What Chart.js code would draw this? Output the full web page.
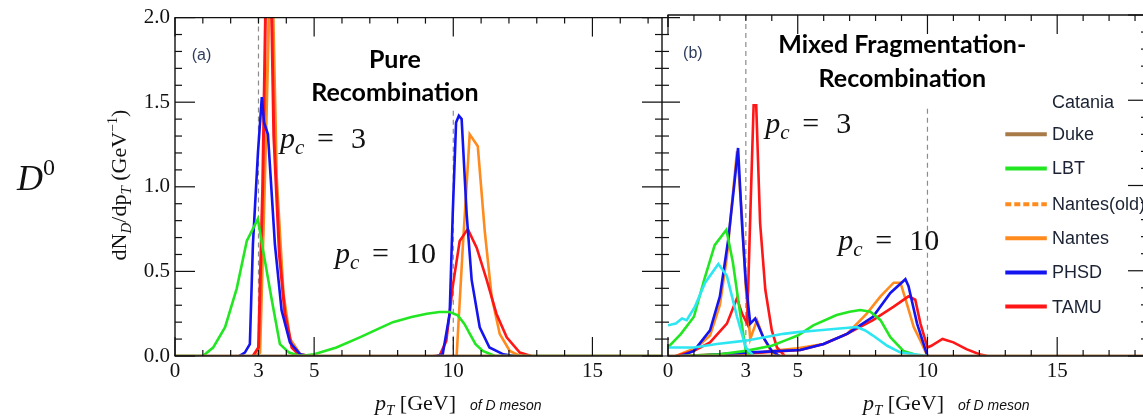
<!DOCTYPE html>
<html>
<head>
<meta charset="utf-8">
<script src="https://cdn.jsdelivr.net/npm/chart.js@4.4.0/dist/chart.umd.min.js"></script>
<style>
  html, body { margin: 0; padding: 0; background: #fff; overflow: hidden; }
  #wrap { position: relative; width: 1143px; height: 417px; overflow: hidden; }
  #left { position: absolute; left: 0; top: 0; }
  #right { position: absolute; left: 640px; top: 0; }
</style>
</head>
<body>
<div id="wrap">
  <canvas id="left" width="680" height="417"></canvas>
  <canvas id="right" width="520" height="417"></canvas>
</div>
<script>
// axis ticks
const xTickValuesA = [0, 1, 2, 3, 4, 5, 6, 7, 8, 9, 10, 11, 12, 13, 14, 15, 16, 17];
const xTickValuesB = [0, 1, 2, 3, 4, 5, 6, 7, 8, 9, 10, 11, 12, 13, 14, 15, 16, 17, 18];
const xTickLabels = [0, 3, 5, 10, 15];
const yTickValues = [0, 0.1, 0.2, 0.3, 0.4, 0.5, 0.6, 0.7, 0.8, 0.9, 1.0, 1.1, 1.2, 1.3, 1.4, 1.5, 1.6, 1.7, 1.8, 1.9, 2.0];
const cutoffX = [3, 10];
const cutoffTop = [2.0, 1.45];

// legend
const legendNames = ["Catania", "Duke", "LBT", "Nantes(old)", "Nantes", "PHSD", "TAMU"];

// colours
const C_CATANIA = "#2ee6f2";
const C_DUKE = "#a87a48";
const C_LBT = "#22e622";
const C_NANTES = "#ff8a1e";
const C_PHSD = "#1414f0";
const C_TAMU = "#ff1616";
const legendColors = [null, C_DUKE, C_LBT, C_NANTES, C_NANTES, C_PHSD, C_TAMU];
const legendDashed = [false, false, false, true, false, false, false];

// ---- panel (a): pure recombination ----
const dukeAX = [0, 17.5];
const dukeAY = [0, 0];
const lbtA3X = [0, 1.0, 1.37, 1.8, 2.22, 2.58, 2.98, 3.17, 3.48, 3.77, 4.1, 4.5, 5.0];
const lbtA3Y = [0, 0, 0.05, 0.17, 0.40, 0.68, 0.81, 0.62, 0.33, 0.07, 0.02, 0, 0];
const lbtA10X = [4.5, 5.0, 5.8, 6.64, 7.3, 7.83, 8.5, 9.05, 9.5, 9.87, 10.16, 10.4, 10.6, 10.8, 11.06, 11.5, 17.5];
const lbtA10Y = [0, 0.01, 0.05, 0.11, 0.16, 0.20, 0.23, 0.25, 0.26, 0.26, 0.24, 0.19, 0.13, 0.07, 0.03, 0, 0];
const phsdA3X = [2.3, 2.51, 2.69, 2.8, 2.98, 3.12, 3.2, 3.34, 3.59, 3.83, 4.13, 4.5, 4.8];
const phsdA3Y = [0, 0.02, 0.07, 0.66, 1.20, 1.53, 1.38, 1.31, 0.66, 0.27, 0.08, 0.01, 0];
const tamuA3X = [2.8, 3.0, 3.15, 3.3, 3.42, 3.55, 3.75, 3.95, 4.2, 4.5];
const tamuA3Y = [0, 0.05, 1.0, 2.5, 2.5, 1.3, 0.6, 0.25, 0.05, 0];
const nantesA3X = [2.9, 3.05, 3.2, 3.38, 3.52, 3.65, 3.89, 4.13, 4.5, 4.8];
const nantesA3Y = [0, 0.02, 0.9, 2.05, 2.05, 1.05, 0.37, 0.1, 0.01, 0];
const phsdA10X = [9.4, 9.62, 9.87, 9.98, 10.1, 10.2, 10.3, 10.48, 10.66, 10.95, 11.3, 11.8, 12.2];
const phsdA10Y = [0, 0.01, 0.25, 0.84, 1.38, 1.42, 1.40, 0.84, 0.45, 0.17, 0.05, 0.01, 0];
const nantesA10X = [10.0, 10.12, 10.34, 10.59, 10.88, 11.13, 11.38, 11.67, 12.03, 12.4];
const nantesA10Y = [0, 0, 0.64, 1.31, 1.24, 0.74, 0.35, 0.13, 0.03, 0];
const tamuA10X = [9.3, 9.5, 9.75, 9.98, 10.23, 10.52, 10.84, 11.2, 11.55, 11.92, 12.39, 12.8];
const tamuA10Y = [0, 0, 0.09, 0.41, 0.68, 0.75, 0.64, 0.45, 0.25, 0.11, 0.02, 0];

// ---- panel (b): mixed fragmentation-recombination ----
const dukeBX = [0, 18.5];
const dukeBY = [0, 0];
const cataniaB3X = [0, 0.3, 0.54, 0.72, 1.04, 1.43, 1.94, 2.27, 2.66, 3.0, 3.3];
const cataniaB3Y = [0.18, 0.19, 0.22, 0.21, 0.29, 0.43, 0.54, 0.47, 0.23, 0.05, 0];
const cataniaB10X = [0, 0.5, 1.0, 1.88, 3.0, 4.45, 5.0, 5.74, 6.5, 7.28, 7.6, 7.9, 8.45, 8.96, 9.5, 10.0];
const cataniaB10Y = [0.05, 0.05, 0.05, 0.07, 0.09, 0.13, 0.14, 0.15, 0.16, 0.17, 0.15, 0.12, 0.06, 0.02, 0.01, 0];
const lbtB3X = [0, 0.5, 1.0, 1.4, 1.8, 2.25, 2.5, 2.78, 3.0, 3.2];
const lbtB3Y = [0.05, 0.13, 0.23, 0.45, 0.65, 0.74, 0.55, 0.25, 0.03, 0];
const lbtB10X = [0.5, 2.0, 3.0, 4.0, 4.5, 5.0, 5.6, 6.5, 7.0, 7.41, 7.8, 8.19, 8.57, 9.07, 9.7];
const lbtB10Y = [0, 0.01, 0.03, 0.06, 0.09, 0.12, 0.18, 0.24, 0.26, 0.27, 0.26, 0.21, 0.11, 0.03, 0];
const phsdB3X = [0.5, 1.0, 1.62, 2.0, 2.32, 2.55, 2.7, 2.85, 3.0, 3.17, 3.36, 3.67, 4.0, 4.3];
const phsdB3Y = [0, 0.03, 0.15, 0.35, 0.68, 1.0, 1.22, 0.78, 0.43, 0.19, 0.22, 0.11, 0.03, 0];
const phsdB10X = [1.0, 3.0, 5.1, 6.0, 6.9, 7.9, 8.57, 9.15, 9.27, 9.6, 10.0];
const phsdB10Y = [0, 0.02, 0.035, 0.07, 0.13, 0.23, 0.37, 0.45, 0.41, 0.19, 0];
const nantesB3X = [0.3, 1.11, 1.62, 2.0, 2.27, 2.5, 2.66, 2.85, 3.0, 3.17, 3.43, 3.67, 4.0, 4.3];
const nantesB3Y = [0, 0.05, 0.12, 0.3, 0.58, 0.95, 1.2, 0.82, 0.4, 0.1, 0.21, 0.11, 0.02, 0];
const nantesB10X = [0.5, 2.0, 3.5, 4.32, 5.0, 6.0, 6.9, 7.67, 8.19, 8.7, 8.96, 9.2, 9.47, 9.73, 10.0];
const nantesB10Y = [0, 0.005, 0.02, 0.035, 0.045, 0.07, 0.13, 0.25, 0.35, 0.43, 0.43, 0.31, 0.17, 0.09, 0];
const tamuB3X = [0.3, 1.0, 1.62, 2.27, 2.66, 2.85, 3.05, 3.2, 3.3, 3.4, 3.55, 3.75, 4.0, 4.2, 4.5];
const tamuB3Y = [0, 0.03, 0.08, 0.19, 0.34, 0.25, 0.19, 0.97, 1.47, 1.47, 0.78, 0.39, 0.15, 0.05, 0];
const tamuB10X = [0.5, 2.0, 3.5, 5.1, 6.0, 6.9, 7.9, 8.7, 9.27, 9.53, 9.73, 10.0, 10.15, 10.58, 11.0, 11.5, 12.0, 12.3];
const tamuB10Y = [0, 0.01, 0.02, 0.035, 0.07, 0.13, 0.21, 0.29, 0.35, 0.33, 0.19, 0.05, 0.06, 0.10, 0.08, 0.04, 0.01, 0];

const SERIF = '"Liberation Serif", "Times New Roman", serif';
const SANS = '"Liberation Sans", Arial, sans-serif';

function series(xs, ys, color, width) {
  return {
    data: xs.map((x, i) => ({ x: x, y: ys[i] })),
    borderColor: color,
    borderWidth: width || 2.6,
    pointRadius: 0,
    fill: false,
    tension: 0,
  };
}

function isMajorY(v) {
  return Math.abs(v * 2 - Math.round(v * 2)) < 1e-6;
}

function line(ctx, x1, y1, x2, y2) {
  ctx.beginPath();
  ctx.moveTo(x1, y1);
  ctx.lineTo(x2, y2);
  ctx.stroke();
}

// draw a run of text pieces (font, baseline shift) starting at x
function drawRich(ctx, pieces, x, y, align) {
  let total = 0;
  pieces.forEach((p) => {
    ctx.font = p.f;
    total += ctx.measureText(p.t).width;
  });
  let cx = align === "center" ? x - total / 2 : x;
  ctx.textAlign = "left";
  ctx.textBaseline = "alphabetic";
  pieces.forEach((p) => {
    ctx.font = p.f;
    ctx.fillText(p.t, cx, y + (p.dy || 0));
    cx += ctx.measureText(p.t).width;
  });
}

function drawPc(ctx, x, y, num) {
  ctx.fillStyle = "#111";
  ctx.textAlign = "left";
  ctx.textBaseline = "alphabetic";
  ctx.font = "italic 30px " + SERIF;
  ctx.fillText("p", x, y);
  ctx.font = "italic 21px " + SERIF;
  ctx.fillText("c", x + 15, y + 6);
  ctx.font = "30px " + SERIF;
  ctx.fillText("=", x + 37, y);
  ctx.fillText(num, x + 71, y);
}

// cut-off lines (dashed)
const cutoffPlugin = {
  id: "cutoffs",
  beforeDatasetsDraw(chart) {
    const { ctx, scales: { x, y } } = chart;
    ctx.save();
    ctx.strokeStyle = "#8c8c8c";
    ctx.lineWidth = 1.2;
    ctx.setLineDash([5, 4]);
    cutoffX.forEach((cx, i) => {
      line(ctx, x.getPixelForValue(cx), y.getPixelForValue(cutoffTop[i]), x.getPixelForValue(cx), y.getPixelForValue(0));
    });
    ctx.restore();
  },
};

// frame with inward ticks
function frameDrawer(isLeft) {
  return {
    id: isLeft ? "frameLeft" : "frameRight",
    afterDraw(chart) {
      const { ctx, chartArea: a, scales: { x, y } } = chart;
      ctx.save();
      ctx.setLineDash([]);
      ctx.strokeStyle = "#111";
      ctx.lineWidth = 1.4;
      line(ctx, a.left - 0.5, a.bottom, a.right + 1, a.bottom);
      line(ctx, a.left - 0.5, a.top, a.right + 1, a.top);
      line(ctx, a.right, a.top, a.right, a.bottom);
      if (isLeft) {
        line(ctx, a.left, a.top, a.left, a.bottom);
      } else {
        // only short bits of the right panel's own left edge show
        line(ctx, a.left, a.top, a.left, y.getPixelForValue(1.93));
        line(ctx, a.left, y.getPixelForValue(0.07), a.left, a.bottom);
      }
      ctx.lineWidth = 1.2;
      x.ticks.forEach((t) => {
        const px = x.getPixelForValue(t.value);
        const len = t.value % 5 === 0 ? 19 : 6;
        line(ctx, px, a.bottom, px, a.bottom - len);
        line(ctx, px, a.top, px, a.top + len);
      });
      y.ticks.forEach((t) => {
        const py = y.getPixelForValue(t.value);
        const len = isMajorY(t.value) ? 20 : 7;
        if (isLeft) {
          line(ctx, a.left, py, a.left + len, py);
          line(ctx, a.right - len, py, a.right + len, py);
        } else {
          line(ctx, a.right, py, a.right - len, py);
        }
      });
      ctx.restore();
    },
  };
}

function xTitle(ctx, x0) {
  ctx.fillStyle = "#111";
  drawRich(ctx, [
    { t: "p", f: "italic 22px " + SERIF },
    { t: "T", f: "italic 15px " + SERIF, dy: 5 },
    { t: " [GeV]", f: "22px " + SERIF },
  ], x0, 410, "left");
  ctx.font = "italic 14px " + SANS;
  ctx.fillText("of D meson", x0 + 95, 410);
}

const leftExtras = {
  id: "leftExtras",
  afterDraw(chart) {
    const { ctx, scales: { x, y } } = chart;
    ctx.save();
    // D^0
    ctx.fillStyle = "#111";
    drawRich(ctx, [
      { t: "D", f: "italic 36px " + SERIF },
      { t: "0", f: "24px " + SERIF, dy: -15 },
    ], 17, 190, "left");
    // y title (rotated)
    ctx.translate(126, 185);
    ctx.rotate(-Math.PI / 2);
    drawRich(ctx, [
      { t: "dN", f: "22px " + SERIF },
      { t: "D", f: "italic 15px " + SERIF, dy: 5 },
      { t: "/dp", f: "22px " + SERIF },
      { t: "T", f: "italic 15px " + SERIF, dy: 5 },
      { t: " (GeV", f: "22px " + SERIF },
      { t: "\u22121", f: "14px " + SERIF, dy: -9 },
      { t: ")", f: "22px " + SERIF },
    ], 0, 0, "center");
    ctx.setTransform(1, 0, 0, 1, 0, 0);
    xTitle(ctx, 375);
    // panel label and title
    ctx.fillStyle = "#2e3c5c";
    ctx.font = "16px " + SANS;
    ctx.textAlign = "left";
    ctx.fillText("(a)", x.getPixelForValue(0.6), y.getPixelForValue(1.75));
    ctx.fillStyle = "#000";
    ctx.font = "bold 25px Lato, " + SANS;
    ctx.textAlign = "center";
    ctx.fillText("Pure", x.getPixelForValue(7.9), y.getPixelForValue(1.70));
    ctx.fillText("Recombination", x.getPixelForValue(7.9), y.getPixelForValue(1.51));
    drawPc(ctx, x.getPixelForValue(3.77), y.getPixelForValue(1.23), "3");
    drawPc(ctx, x.getPixelForValue(5.75), y.getPixelForValue(0.55), "10");
    ctx.restore();
  },
};

const rightExtras = {
  id: "rightExtras",
  afterDraw(chart) {
    const { ctx, scales: { x, y } } = chart;
    ctx.save();
    xTitle(ctx, 223);
    ctx.fillStyle = "#2e3c5c";
    ctx.font = "16px " + SANS;
    ctx.textAlign = "left";
    ctx.fillText("(b)", x.getPixelForValue(0.58), y.getPixelForValue(1.75));
    ctx.fillStyle = "#000";
    ctx.font = "bold 25px Lato, " + SANS;
    ctx.textAlign = "center";
    ctx.fillText("Mixed Fragmentation-", x.getPixelForValue(9.03), y.getPixelForValue(1.78));
    ctx.fillText("Recombination", x.getPixelForValue(9.03), y.getPixelForValue(1.58));
    drawPc(ctx, x.getPixelForValue(3.75), y.getPixelForValue(1.31), "3");
    drawPc(ctx, x.getPixelForValue(6.56), y.getPixelForValue(0.62), "10");
    // legend
    const rowY = [1.49, 1.30, 1.10, 0.89, 0.69, 0.49, 0.29];
    legendNames.forEach((name, i) => {
      const py = y.getPixelForValue(rowY[i]);
      if (legendColors[i]) {
        ctx.strokeStyle = legendColors[i];
        ctx.lineWidth = 4;
        ctx.setLineDash(legendDashed[i] ? [6, 3] : []);
        line(ctx, x.getPixelForValue(13.0), py, x.getPixelForValue(14.6), py);
        ctx.setLineDash([]);
      }
      ctx.fillStyle = "#1b2233";
      ctx.font = "18px " + SANS;
      ctx.textAlign = "left";
      ctx.textBaseline = "middle";
      ctx.fillText(name, x.getPixelForValue(14.8), py + 1);
    });
    ctx.restore();
  },
};

function makePanel(canvasId, datasets, xMax, xTicks, yWidth, showYLabels, padRight, plugins) {
  return new Chart(document.getElementById(canvasId), {
    type: "line",
    data: { datasets: datasets },
    options: {
      responsive: false,
      animation: false,
      devicePixelRatio: 1,
      layout: { padding: { top: 15, right: padRight, left: 0, bottom: 0 } },
      plugins: { legend: { display: false }, tooltip: { enabled: false } },
      scales: {
        x: {
          type: "linear",
          min: 0,
          max: xMax,
          afterBuildTicks: (s) => { s.ticks = xTicks.map((v) => ({ value: v })); },
          afterFit: (s) => { s.height = 61; },
          grid: { display: false, drawTicks: false },
          border: { display: false },
          ticks: {
            autoSkip: false,
            maxRotation: 0,
            padding: 3,
            color: "#111",
            font: { family: "Liberation Serif", size: 21 },
            callback: (v) => (xTickLabels.includes(v) ? String(v) : ""),
          },
        },
        y: {
          type: "linear",
          min: 0,
          max: 2,
          afterBuildTicks: (s) => { s.ticks = yTickValues.map((v) => ({ value: v })); },
          afterFit: (s) => { s.width = yWidth; },
          grid: { display: false, drawTicks: false },
          border: { display: false },
          ticks: {
            display: showYLabels,
            autoSkip: false,
            padding: 5,
            color: "#111",
            font: { family: "Liberation Serif", size: 21 },
            callback: (v) => (isMajorY(v) ? v.toFixed(1) : ""),
          },
        },
      },
    },
    plugins: plugins,
  });
}

makePanel("left", [
  series(dukeAX, dukeAY, C_DUKE, 3),
  series(lbtA3X, lbtA3Y, C_LBT),
  series(lbtA10X, lbtA10Y, C_LBT),
  series(phsdA3X, phsdA3Y, C_PHSD),
  series(phsdA10X, phsdA10Y, C_PHSD),
  series(tamuA3X, tamuA3Y, C_TAMU, 3),
  series(tamuA10X, tamuA10Y, C_TAMU),
  series(nantesA3X, nantesA3Y, C_NANTES, 3),
  series(nantesA10X, nantesA10Y, C_NANTES),
], 17.5, xTickValuesA, 175, true, 18, [cutoffPlugin, frameDrawer(true), leftExtras]);

makePanel("right", [
  series(dukeBX, dukeBY, C_DUKE, 3),
  series(cataniaB3X, cataniaB3Y, C_CATANIA),
  series(cataniaB10X, cataniaB10Y, C_CATANIA),
  series(lbtB3X, lbtB3Y, C_LBT),
  series(lbtB10X, lbtB10Y, C_LBT),
  series(phsdB3X, phsdB3Y, C_PHSD),
  series(phsdB10X, phsdB10Y, C_PHSD),
  series(tamuB3X, tamuB3Y, C_TAMU),
  series(tamuB10X, tamuB10Y, C_TAMU),
  series(nantesB3X, nantesB3Y, C_NANTES),
  series(nantesB10X, nantesB10Y, C_NANTES),
], 18.5, xTickValuesB, 28, false, 12, [cutoffPlugin, frameDrawer(false), rightExtras]);
</script>
</body>
</html>
